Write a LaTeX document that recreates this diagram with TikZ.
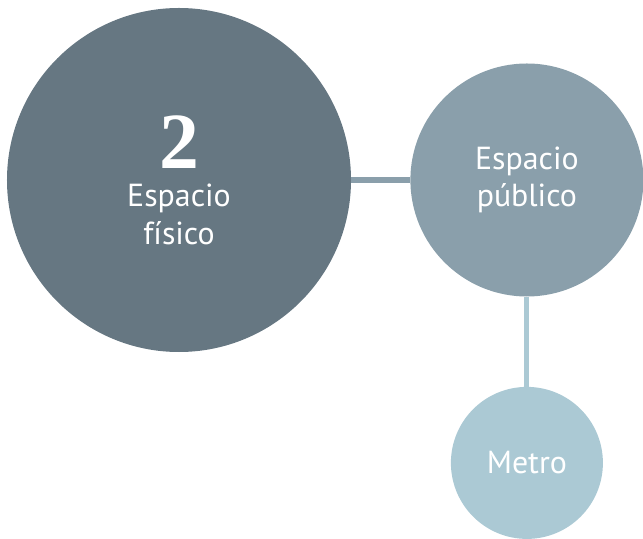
\documentclass[tikz,border=0pt]{standalone}
\usepackage{fontspec}
\setmainfont{PT Sans}
\newfontfamily\numfont{Liberation Serif}
\usepackage{xcolor}
\usepackage{tikz}
\usetikzlibrary{positioning}

\definecolor{darkslate}{HTML}{667782}
\definecolor{midslate}{HTML}{8A9FAB}
\definecolor{lightslate}{HTML}{ABC9D4}

\begin{document}
\begin{tikzpicture}[x=1bp,y=1bp,node distance=59bp]
\useasboundingbox (-179,180) rectangle (464,-359);
\node (fisico) [circle, fill=darkslate, text=white, minimum size=344bp, inner sep=0pt, align=center, font=\fontsize{32}{38}\selectfont] at (0,0) {{\numfont\bfseries\fontsize{80}{50}\selectfont 2}\\Espacio\\físico};
\node (publico) [circle, fill=midslate, text=white, minimum size=233bp, inner sep=0pt, align=center, font=\fontsize{32}{37}\selectfont, right=of fisico] {Espacio\\público};
\node (metro) [circle, fill=lightslate, text=white, minimum size=152bp, inner sep=0pt, align=center, font=\fontsize{32}{37}\selectfont, below=90bp of publico] {Metro};
\draw [midslate, line width=5.5bp] (fisico) -- (publico);
\draw [lightslate, line width=5bp] (publico) -- (metro);
\end{tikzpicture}
\end{document}
